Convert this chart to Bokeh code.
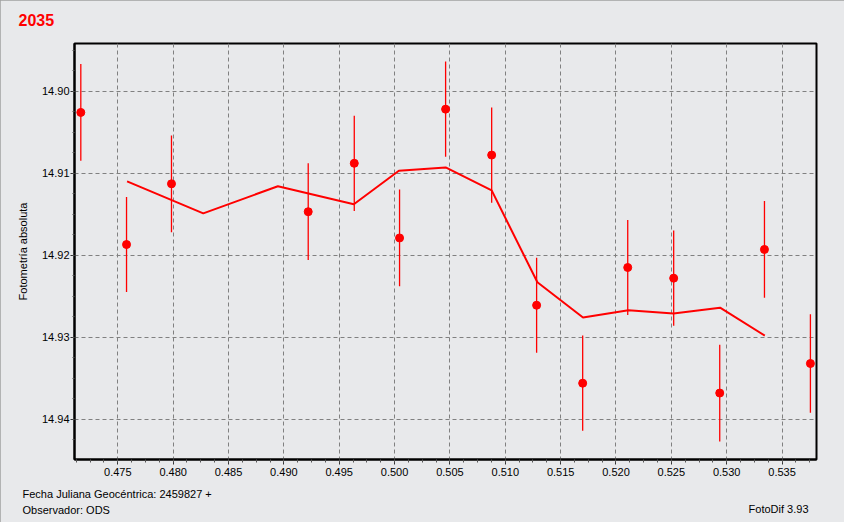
from bokeh.plotting import figure
from bokeh.models import Range1d, FixedTicker, PrintfTickFormatter, Title
from bokeh.embed import file_html
from bokeh.resources import INLINE

# Data (geocentric JD fraction, absolute magnitude, error half-width)
jd = [0.47166, 0.47579, 0.47985, 0.49220, 0.49636, 0.50045, 0.50461, 0.50877,
      0.51283, 0.51699, 0.52106, 0.52521, 0.52937, 0.53341, 0.53756]
mag = [14.9026, 14.9187, 14.9113, 14.9147, 14.9088, 14.9179, 14.9022, 14.9078,
       14.9261, 14.9356, 14.9215, 14.9228, 14.9368, 14.9193, 14.9332]
err = [0.0059, 0.0058, 0.0059, 0.0059, 0.0058, 0.0059, 0.0058, 0.0058,
       0.0058, 0.0058, 0.0058, 0.0058, 0.0059, 0.0059, 0.0060]

# Smoothed curve
line_jd = [0.47584, 0.48272, 0.48946, 0.49632, 0.50039, 0.50461, 0.50877,
           0.51290, 0.51702, 0.52112, 0.52519, 0.52940, 0.53344]
line_mag = [14.9110, 14.9149, 14.9116, 14.9138, 14.9097, 14.9093, 14.9121,
            14.9233, 14.9276, 14.9267, 14.9271, 14.9264, 14.9298]

x_ticks = [0.475, 0.480, 0.485, 0.490, 0.495, 0.500, 0.505, 0.510, 0.515,
           0.520, 0.525, 0.530, 0.535]
y_ticks = [14.90, 14.91, 14.92, 14.93, 14.94]

BG = "#E8E9EB"
FONT = "Liberation Sans"
W, H = 844, 522
FRAME_L = 74

p = figure(width=W, height=H, output_backend="svg", toolbar_location=None,
           x_range=Range1d(0.47109, 0.53811), y_range=Range1d(14.9449, 14.8942),
           min_border_left=FRAME_L, min_border_right=28, min_border_top=43,
           min_border_bottom=63,
           styles={"outline": "2px solid #A0A0A0", "outline-offset": "-2px"})

p.background_fill_color = BG
p.border_fill_color = BG
p.outline_line_color = "black"
p.outline_line_width = 2

# Axes
xa = p.xaxis[0]
ya = p.yaxis[0]
minor_x = [0.47125 + 0.00125 * i for i in range(54)]
minor_y = [14.8925 + 0.0025 * i for i in range(22)]
xa.ticker = FixedTicker(ticks=x_ticks, minor_ticks=minor_x)
ya.ticker = FixedTicker(ticks=y_ticks, minor_ticks=minor_y)
xa.formatter = PrintfTickFormatter(format="%.3f")
ya.formatter = PrintfTickFormatter(format="%.2f")

for ax in (xa, ya):
    ax.axis_line_color = "black"
    ax.axis_line_width = 2
    ax.major_tick_line_color = "#333333"
    ax.minor_tick_line_color = "#555555"
    ax.major_tick_in = 0
    ax.minor_tick_in = 0
    ax.major_label_text_font = FONT
    ax.major_label_text_font_size = "11px"
    ax.major_label_text_color = "black"
    ax.axis_label_text_font = FONT
    ax.axis_label_text_font_size = "11px"
    ax.axis_label_text_font_style = "normal"
    ax.axis_label_text_color = "black"

xa.major_tick_out = 5
xa.minor_tick_out = 3
xa.major_label_standoff = 3
ya.major_tick_out = 4
ya.minor_tick_out = 2
ya.major_label_standoff = 1
ya.axis_label = "Fotometría absoluta"
ya.axis_label_standoff = 10

for g in (p.xgrid[0], p.ygrid[0]):
    g.grid_line_color = "#808080"
    g.grid_line_dash = "4 3"
    g.grid_line_width = 1

# Error bars
lo = [m - e for m, e in zip(mag, err)]
hi = [m + e for m, e in zip(mag, err)]
p.segment(x0=jd, y0=lo, x1=jd, y1=hi, line_color="red", line_width=1.3)

# Smoothed line
p.line(line_jd, line_mag, line_color="red", line_width=2)

# Points
p.scatter(jd, mag, size=8, fill_color="red", line_color="red", marker="circle")

# Texts
# spacer row between frame and the title
p.add_layout(Title(text=" ", standoff=-3.5, text_font=FONT, text_font_size="11px"),
             "above")
p.add_layout(Title(text="2035", align="left", offset=18 - FRAME_L, standoff=10,
                   vertical_align="top",
                   text_font=FONT, text_font_size="16px", text_font_style="bold",
                   text_color="red"), "above")
p.add_layout(Title(text="Fecha Juliana Geocéntrica: 2459827 +", align="left",
                   offset=22 - FRAME_L, standoff=15,
                   text_font=FONT, text_font_size="11px", text_font_style="normal",
                   text_color="black"), "below")
p.add_layout(Title(text="FotoDif 3.93", align="right",
                   offset=8, standoff=-13,
                   text_font=FONT, text_font_size="11px", text_font_style="normal",
                   text_color="black"), "below")
p.add_layout(Title(text="Observador: ODS", align="left",
                   offset=22 - FRAME_L, standoff=-13,
                   text_font=FONT, text_font_size="11px", text_font_style="normal",
                   text_color="black"), "below")

open("out.html", "w").write(file_html(p, INLINE))
